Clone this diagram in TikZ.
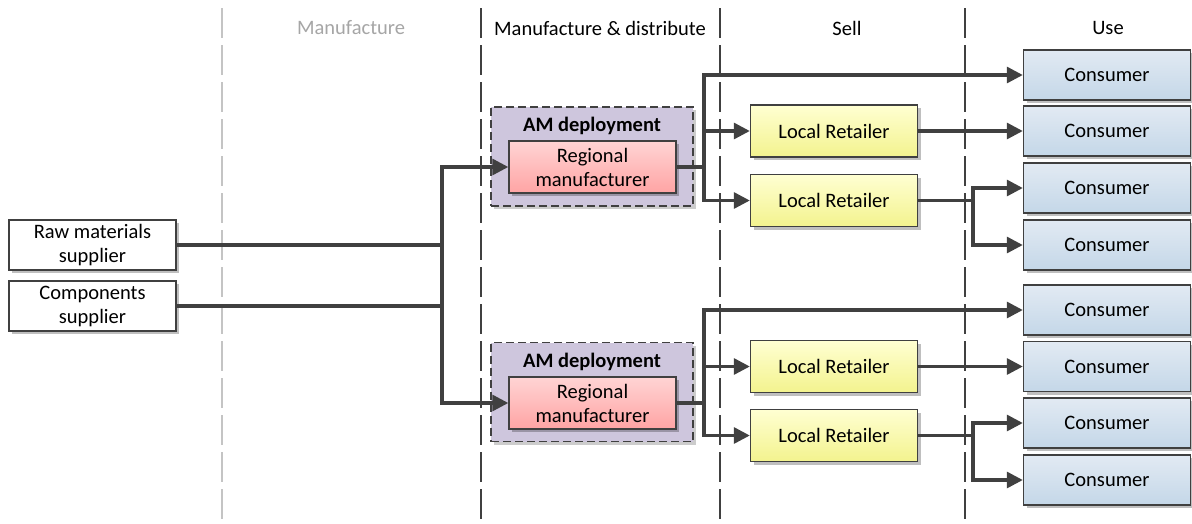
\documentclass[tikz,border=0pt]{standalone}
\usepackage{fontspec}
\setmainfont{Carlito}
\usetikzlibrary{arrows.meta,shadows,calc}
\definecolor{ink}{HTML}{404040}
\definecolor{laneGray}{HTML}{C4C4C4}
\definecolor{hdrGray}{HTML}{A6A6A6}
\definecolor{consTop}{HTML}{E2EAF3}
\definecolor{consBot}{HTML}{C4D7E8}
\definecolor{retTop}{HTML}{FFFFD2}
\definecolor{retBot}{HTML}{F3F38E}
\definecolor{regTop}{HTML}{FFD4D4}
\definecolor{regBot}{HTML}{FFA4A4}
\definecolor{amFill}{HTML}{CEC6DD}
\tikzset{
  box/.style={draw=ink, line width=1.4pt, rectangle, align=center,
    minimum width=167pt, minimum height=50pt, inner sep=2pt,
    font=\fontsize{20.5}{24}\selectfont,
    drop shadow={shadow xshift=3pt, shadow yshift=-3pt, opacity=0.25, fill=black}},
  supplier/.style={box, fill=white},
  consumer/.style={box, top color=consTop, bottom color=consBot},
  retailer/.style={box, top color=retTop, bottom color=retBot, minimum height=52pt},
  regional/.style={box, top color=regTop, bottom color=regBot, minimum height=52pt},
  amgroup/.style={draw=ink, line width=1.4pt, dash pattern=on 8pt off 4pt, fill=amFill,
    minimum width=202pt, minimum height=99pt, rectangle,
    drop shadow={shadow xshift=3pt, shadow yshift=-3pt, opacity=0.2, fill=black}},
  amtitle/.style={font=\fontsize{20.5}{24}\selectfont\bfseries, inner sep=0pt},
  header/.style={font=\fontsize{20.5}{24}\selectfont, inner sep=0pt},
  lane/.style={draw=ink, line width=1.3pt, dash pattern=on 30pt off 7pt},
  flow/.style={draw=ink, line width=3.2pt, -{Triangle[length=16pt,width=16pt]}},
  link/.style={draw=ink, line width=3.2pt}
}
\begin{document}
\begin{tikzpicture}[x=1pt,y=-1pt]
\useasboundingbox[fill=white] (0,0) rectangle (1192,523);

% swim lane separators
\draw[lane, draw=laneGray] (222,8) -- (222,522);
\draw[lane] (481,8) -- (481,522);
\draw[lane] (720,8) -- (720,522);
\draw[lane] (965,8) -- (965,522);

% lane headers
\node[header, text=hdrGray] (hManu) at (351,28) {Manufacture};
\node[header] (hDist) at (600,28) {Manufacture \& distribute};
\node[header] (hSell) at (847,28) {Sell};
\node[header] (hUse) at (1108,28) {Use};

% suppliers
\node[supplier] (raw) at (92.5,245) {Raw materials\\supplier};
\node[supplier] (comp) at (92.5,306) {Components\\supplier};

% AM deployment groups
\node[amgroup] (am1) at (592,156.5) {};
\node[amtitle] (am1t) at (592,126) {AM deployment};
\node[regional] (reg1) at (592.5,167) {Regional\\manufacturer};

\node[amgroup] (am2) at (592,392) {};
\node[amtitle] (am2t) at (592,362) {AM deployment};
\node[regional] (reg2) at (592.5,403) {Regional\\manufacturer};

% retailers
\node[retailer] (lr1) at (834,131) {Local Retailer};
\node[retailer] (lr2) at (834,200.5) {Local Retailer};
\node[retailer] (lr3) at (834,366.5) {Local Retailer};
\node[retailer] (lr4) at (834,435.5) {Local Retailer};

% consumers
\node[consumer] (c1) at (1107,75) {Consumer};
\node[consumer] (c2) at (1107,131) {Consumer};
\node[consumer] (c3) at (1107,188) {Consumer};
\node[consumer] (c4) at (1107,245) {Consumer};
\node[consumer] (c5) at (1107,310) {Consumer};
\node[consumer] (c6) at (1107,366.5) {Consumer};
\node[consumer] (c7) at (1107,423) {Consumer};
\node[consumer] (c8) at (1107,480) {Consumer};

% junction columns
\coordinate (ja) at (442,0);
\coordinate (jb) at (704,0);
\coordinate (jc) at (973,0);

% supply to regional manufacturers
\draw[link] (raw.east) -- (raw.east -| ja);
\draw[link] (comp.east) -- (comp.east -| ja);
\draw[link] (raw.east -| ja) -- (comp.east -| ja);
\draw[flow] (raw.east -| ja) |- (reg1.west);
\draw[flow] (comp.east -| ja) |- (reg2.west);

% regional manufacturer 1 distribution
\draw[link] (reg1.east) -- (reg1.east -| jb);
\draw[flow] (reg1.east -| jb) |- (c1.west);
\draw[flow] (reg1.east -| jb) |- (lr1.west);
\draw[flow] (reg1.east -| jb) |- (lr2.west);
\draw[flow] (lr1.east) -- (c2.west);
\draw[link] (lr2.east) -- (lr2.east -| jc);
\draw[flow] (lr2.east -| jc) |- (c3.west);
\draw[flow] (lr2.east -| jc) |- (c4.west);

% regional manufacturer 2 distribution
\draw[link] (reg2.east) -- (reg2.east -| jb);
\draw[flow] (reg2.east -| jb) |- (c5.west);
\draw[flow] (reg2.east -| jb) |- (lr3.west);
\draw[flow] (reg2.east -| jb) |- (lr4.west);
\draw[flow] (lr3.east) -- (c6.west);
\draw[link] (lr4.east) -- (lr4.east -| jc);
\draw[flow] (lr4.east -| jc) |- (c7.west);
\draw[flow] (lr4.east -| jc) |- (c8.west);
\end{tikzpicture}
\end{document}
